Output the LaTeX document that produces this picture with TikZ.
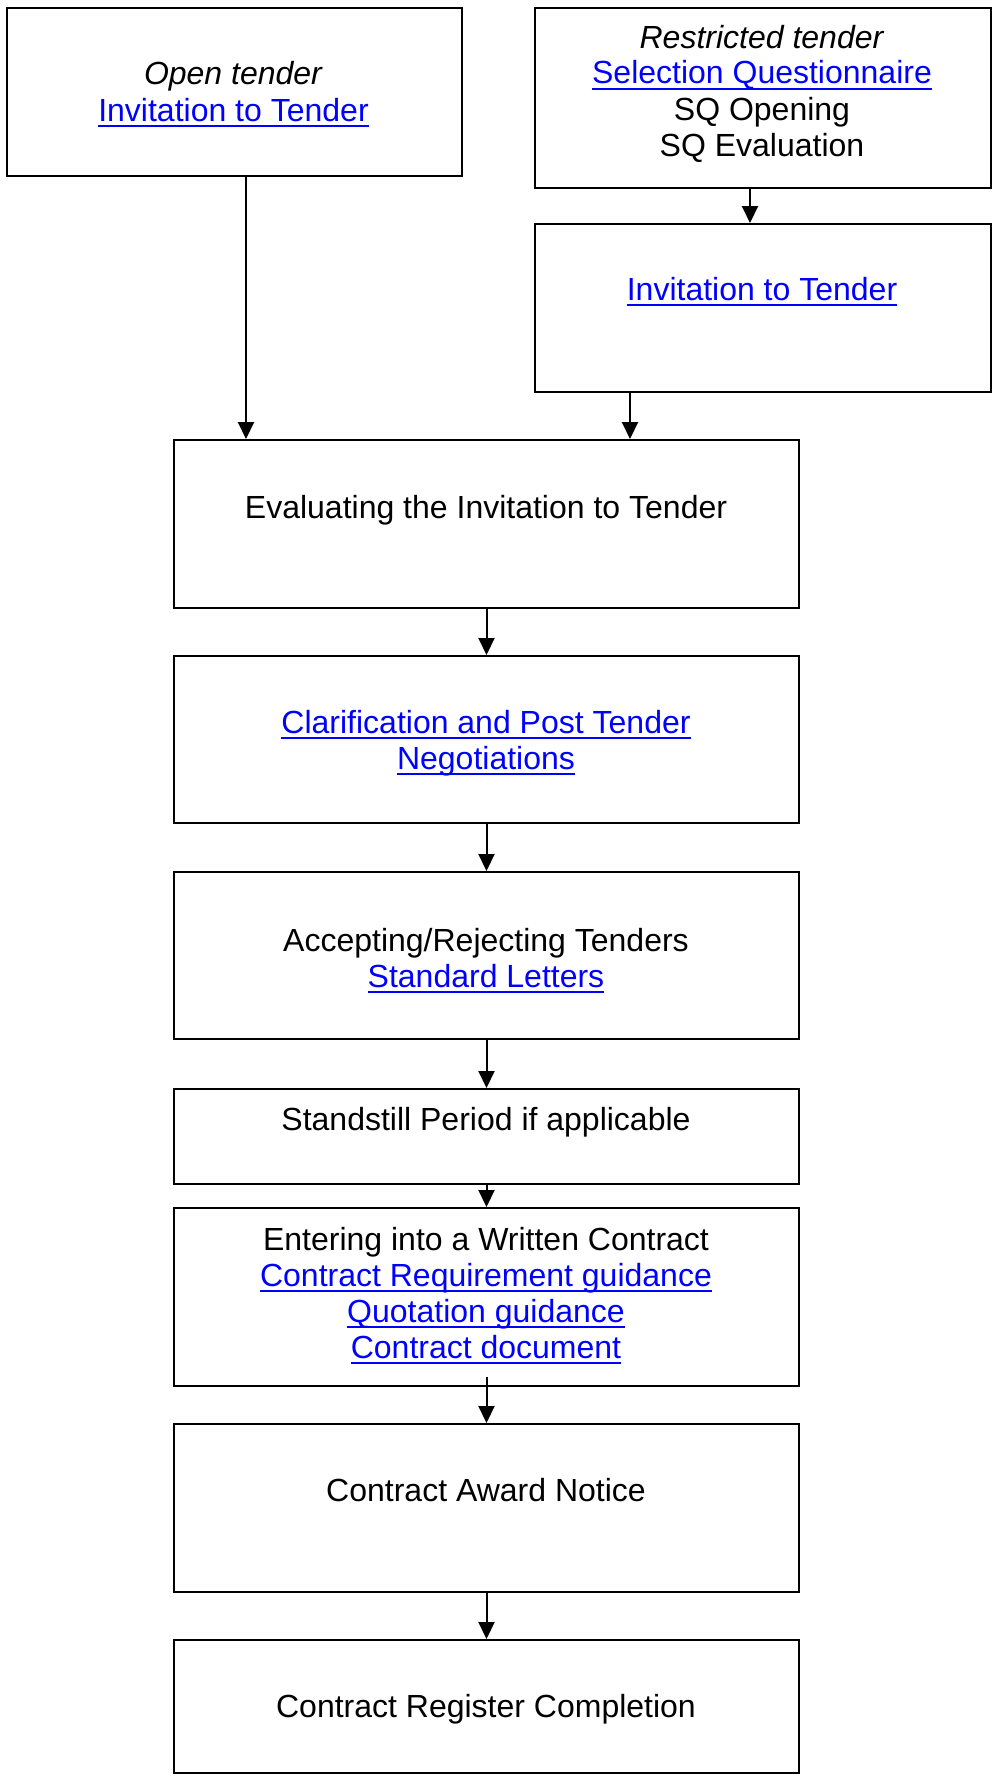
\documentclass[tikz,border=0pt]{standalone}
\usepackage{fontspec}
\setmainfont{Liberation Sans}
\usetikzlibrary{arrows.meta,calc}
\definecolor{linkblue}{RGB}{0,0,255}
\newcommand\lnk[1]{{\color{linkblue}\setbox0\hbox{#1}\rlap{\rule[-3.2pt]{\wd0}{1.1pt}}\box0}}
\begin{document}
\begin{tikzpicture}[x=0.5pt,y=-0.5pt,
 box/.style={draw, line width=1pt, rectangle, inner sep=0pt, anchor=north west},
 txt/.style={align=center, font=\fontsize{16pt}{18pt}\selectfont, inner sep=0pt, anchor=base},
 arr/.style={line width=1pt, -{Triangle[length=8.5pt,width=8pt]}}]
\useasboundingbox (0,0) rectangle (995,1777);
% boxes
\node[box, minimum width=227.5pt, minimum height=84pt] (b1) at (6,7) {};
\node[box, minimum width=228pt, minimum height=90pt] (b2) at (534,7) {};
\node[box, minimum width=228pt, minimum height=84pt] (b3) at (534,223) {};
\node[box, minimum width=312.5pt, minimum height=84pt] (ev) at (173,439) {};
\node[box, minimum width=312.5pt, minimum height=83.5pt] (cl) at (173,655) {};
\node[box, minimum width=312.5pt, minimum height=83.5pt] (ac) at (173,871) {};
\node[box, minimum width=312.5pt, minimum height=47.5pt] (st) at (173,1088) {};
\node[box, minimum width=312.5pt, minimum height=89pt] (en) at (173,1207) {};
\node[box, minimum width=312.5pt, minimum height=84pt] (aw) at (173,1423) {};
\node[box, minimum width=312.5pt, minimum height=66.5pt] (rg) at (173,1639) {};
% texts (multi-line nodes: base = last line baseline)
\node[txt] (t1) at (233.5,121) {\textit{Open tender}\\\lnk{Invitation to Tender}};
\node[txt] (t2) at (762,156) {\textit{Restricted tender}\\\lnk{Selection Questionnaire}\\SQ Opening\\SQ Evaluation};
\node[txt] (t3) at (762,300) {\lnk{Invitation to Tender}};
\node[txt] (tev) at (486,518) {Evaluating the Invitation to Tender};
\node[txt] (tcl) at (486,769) {\lnk{Clarification and Post Tender}\\\lnk{Negotiations}};
\node[txt] (tac) at (486,987) {Accepting/Rejecting Tenders\\\lnk{Standard Letters}};
\node[txt] (tst) at (486,1130) {Standstill Period if applicable};
\node[txt] (ten) at (486,1358) {Entering into a Written Contract\\\lnk{Contract Requirement guidance}\\\lnk{Quotation guidance}\\\lnk{Contract document}};
\node[txt] (taw) at (486,1501) {Contract Award Notice};
\node[txt] (trg) at (486,1717) {Contract Register Completion};
% connectors
\coordinate (cl1) at (246,0);
\coordinate (cr1) at (750,0);
\coordinate (cr2) at (630,0);
\draw[arr] (b1.south -| cl1) -- (ev.north -| cl1);
\draw[arr] (b2.south -| cr1) -- (b3.north -| cr1);
\draw[arr] (b3.south -| cr2) -- (ev.north -| cr2);
\draw[arr] (ev.south) -- (cl.north);
\draw[arr] (cl.south) -- (ac.north);
\draw[arr] (ac.south) -- (st.north);
\draw[arr] (st.south) -- (en.north);
\draw[arr] ([yshift=5pt]en.south) -- (aw.north);
\draw[arr] (aw.south) -- (rg.north);
\end{tikzpicture}
\end{document}
